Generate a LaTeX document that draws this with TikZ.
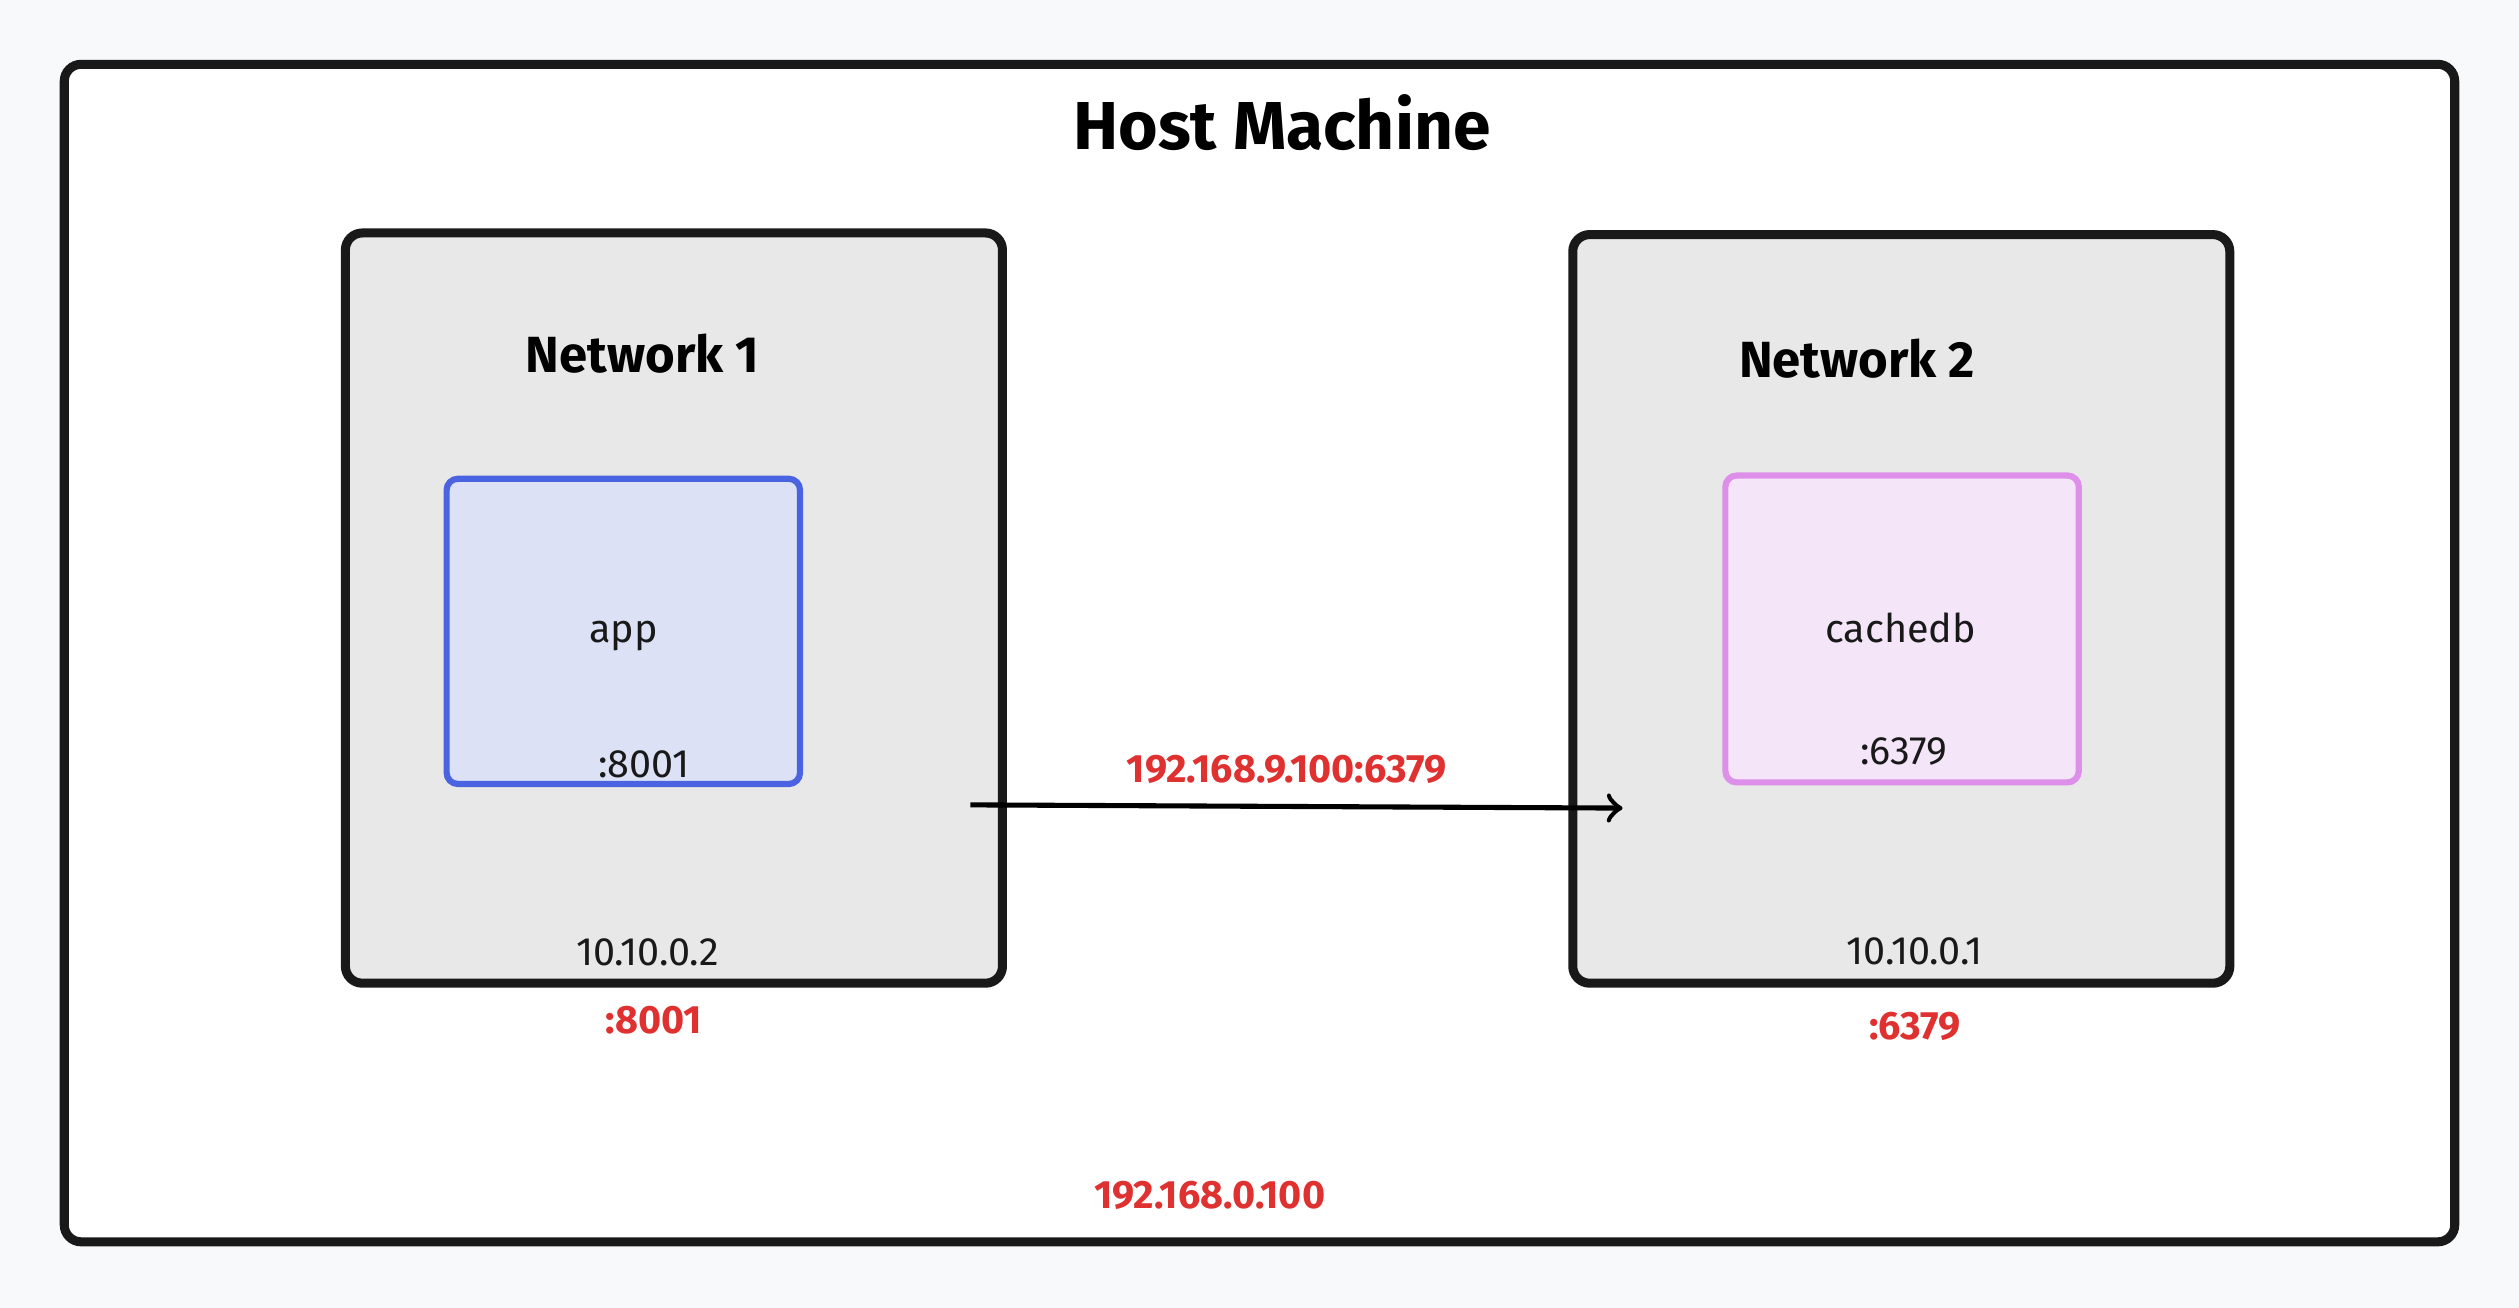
\documentclass[tikz,border=0pt]{standalone}
\usepackage{fontspec}
\setmainfont{Fira Sans}
\usetikzlibrary{positioning}
\definecolor{bggray}{HTML}{F8F9FA}
\definecolor{netgray}{HTML}{E8E8E8}
\definecolor{appfill}{HTML}{DDE1F6}
\definecolor{appline}{HTML}{4A63E0}
\definecolor{dbfill}{HTML}{F4E6F8}
\definecolor{dbline}{HTML}{DD8FEA}
\definecolor{ipred}{HTML}{E03131}

\begin{document}
\begin{tikzpicture}[x=0.01cm,y=-0.01cm,
  box/.style={draw=black!90,line width=1.6pt,rounded corners=3pt},
  net/.style={box,fill=netgray},
  lbl/.style={font=\fontsize{7}{8}\selectfont,text=black!90},
  ip/.style={font=\fontsize{7}{8}\selectfont\bfseries,text=ipred}]
\fill[bggray] (0,0) rectangle (1568,814);
\useasboundingbox (0,0) rectangle (1568,814);

\draw[box,fill=white] (40,40) rectangle (1528,773);
\node[font=\fontsize{12}{14}\selectfont\bfseries] (host) at (798,76) {Host Machine};

\draw[net] (215,145) rectangle (624,612);
\draw[net] (979,146) rectangle (1388,612);
\node[font=\fontsize{9}{11}\selectfont\bfseries] (net_1) at (400,220) {Network 1};
\node[font=\fontsize{9}{11}\selectfont\bfseries] (net_2) at (1156,223) {Network 2};

\draw[draw=appline,fill=appfill,line width=1.1pt,rounded corners=2pt] (278,298) rectangle (498,488);
\draw[draw=dbline,fill=dbfill,line width=1.1pt,rounded corners=2pt] (1074,296) rectangle (1294,487);
\node[lbl] (app) at (388,396) {app};
\node[lbl] (app_port) at (401,476) {:8001};
\node[lbl] (db) at (1183,391) {cachedb};
\node[lbl] (db_port) at (1185,468) {:6379};

\node[lbl] (ip_1) at (403,593) {10.10.0.2};
\node[lbl] (ip_2) at (1192,592) {10.10.0.1};
\node[ip] (pub_1) at (407,635) {:8001};
\node[ip] (pub_2) at (1192,639) {:6379};
\node[ip] (target) at (801,479) {192.168.9.100:6379};
\node[ip] (host_ip) at (753,744) {192.168.0.100};

\coordinate (from) at (604,501);
\coordinate (to) at (1010,503);
\draw[->,line width=0.9pt] (from) -- (to);
\end{tikzpicture}
\end{document}
